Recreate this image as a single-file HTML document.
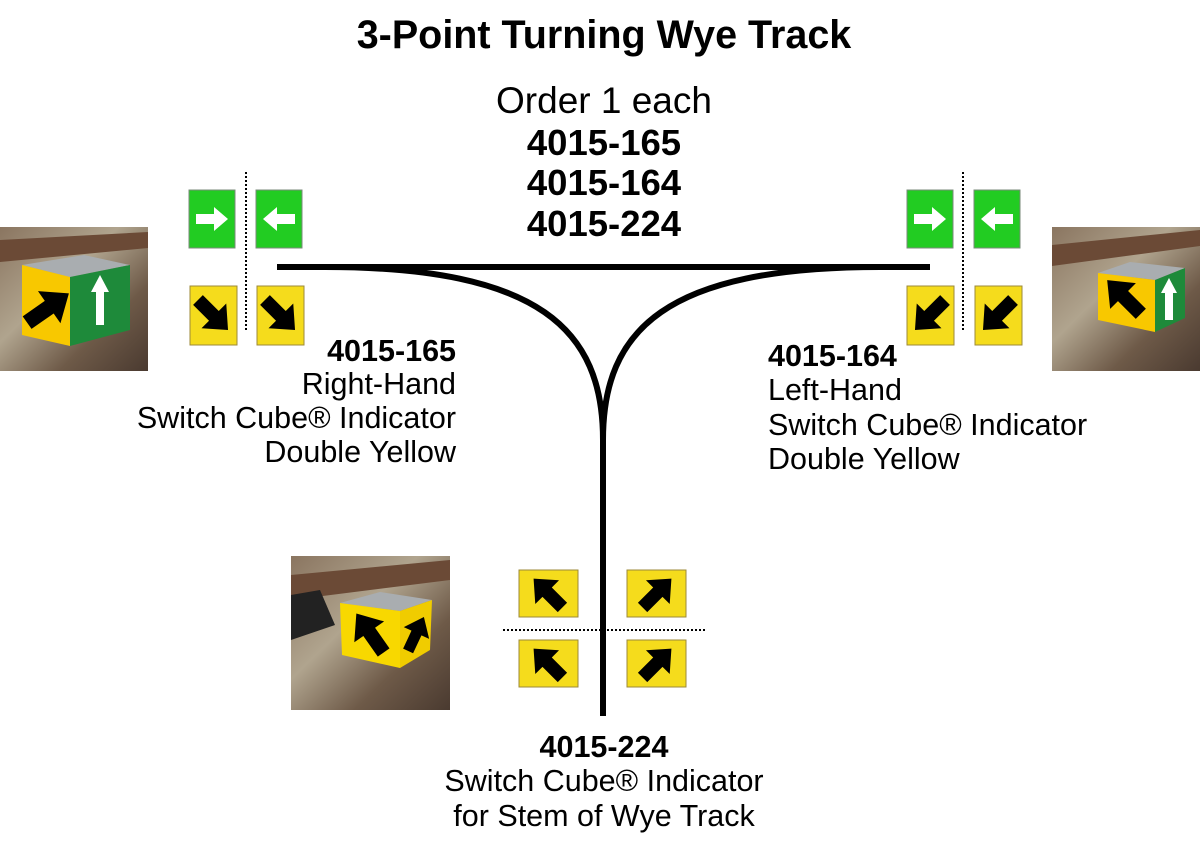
<!DOCTYPE html>
<html><head><meta charset="utf-8"><style>
html,body{margin:0;padding:0;background:#fff;}
svg{display:block;}
text{font-family:"Liberation Sans",Arial,sans-serif;fill:#000;}
</style></head><body>
<svg width="1200" height="849" viewBox="0 0 1200 849" xmlns="http://www.w3.org/2000/svg">
<defs>
<path id="arw" d="M-17,-5.5 L1,-5.5 L1,-14 L17,0 L1,14 L1,5.5 L-17,5.5 Z"/>
<path id="garw" d="M-16,-5 L2,-5 L2,-12 L16,0 L2,12 L2,5 L-16,5 Z"/>
<linearGradient id="bg1" x1="0" y1="0" x2="1" y2="1">
<stop offset="0" stop-color="#8a7560"/><stop offset="0.4" stop-color="#b0a48e"/><stop offset="0.7" stop-color="#6e5a48"/><stop offset="1" stop-color="#4a3a30"/></linearGradient>
</defs>

<text x="604" y="48" font-size="39.5" font-weight="bold" text-anchor="middle">3-Point Turning Wye Track</text>
<text x="604" y="113" font-size="37" text-anchor="middle">Order 1 each</text>
<text x="604" y="155" font-size="36.5" font-weight="bold" text-anchor="middle">4015-165</text>
<text x="604" y="195" font-size="36.5" font-weight="bold" text-anchor="middle">4015-164</text>
<text x="604" y="236" font-size="36.5" font-weight="bold" text-anchor="middle">4015-224</text>

<!-- track -->
<g stroke="#000" stroke-width="6" fill="none">
<line x1="277" y1="267" x2="930" y2="267"/>
<path d="M325,267 C540,267 603,330 603,440 L603,716"/>
<path d="M880,267 C665,267 603,330 603,440"/>
</g>

<!-- left signs -->
<line x1="246" y1="172" x2="246" y2="330" stroke="#000" stroke-width="2" stroke-dasharray="2,2"/>
<g stroke="#7a8a7a" stroke-width="1">
<rect x="189" y="190" width="46" height="58" fill="#22cc22"/>
<rect x="256" y="190" width="46" height="58" fill="#22cc22"/>
<rect x="190" y="286" width="47" height="59" fill="#f5dc1c" stroke="#9c8a3a"/>
<rect x="257" y="286" width="47" height="59" fill="#f5dc1c" stroke="#9c8a3a"/>
</g>
<use href="#garw" transform="translate(212,219)" fill="#fff"/>
<use href="#garw" transform="translate(279,219) rotate(180)" fill="#fff"/>
<use href="#arw" transform="translate(213,315) rotate(45) scale(1.25)"/>
<use href="#arw" transform="translate(280,315) rotate(45) scale(1.25)"/>

<!-- right signs -->
<line x1="963" y1="172" x2="963" y2="330" stroke="#000" stroke-width="2" stroke-dasharray="2,2"/>
<g stroke="#7a8a7a" stroke-width="1">
<rect x="907" y="190" width="46" height="58" fill="#22cc22"/>
<rect x="974" y="190" width="46" height="58" fill="#22cc22"/>
<rect x="907" y="286" width="47" height="59" fill="#f5dc1c" stroke="#9c8a3a"/>
<rect x="975" y="286" width="47" height="59" fill="#f5dc1c" stroke="#9c8a3a"/>
</g>
<use href="#garw" transform="translate(930,219)" fill="#fff"/>
<use href="#garw" transform="translate(997,219) rotate(180)" fill="#fff"/>
<use href="#arw" transform="translate(930,315) rotate(135) scale(1.25)"/>
<use href="#arw" transform="translate(998,315) rotate(135) scale(1.25)"/>

<!-- bottom signs -->
<line x1="503" y1="630" x2="705" y2="630" stroke="#000" stroke-width="2" stroke-dasharray="2,2"/>
<g fill="#f5dc1c" stroke="#9c8a3a" stroke-width="1">
<rect x="519" y="570" width="59" height="47"/>
<rect x="627" y="570" width="59" height="47"/>
<rect x="519" y="640" width="59" height="47"/>
<rect x="627" y="640" width="59" height="47"/>
</g>
<use href="#arw" transform="translate(548,593) rotate(-135) scale(1.2)"/>
<use href="#arw" transform="translate(657,593) rotate(-45) scale(1.2)"/>
<use href="#arw" transform="translate(548,663) rotate(-135) scale(1.2)"/>
<use href="#arw" transform="translate(657,663) rotate(-45) scale(1.2)"/>

<!-- left photo -->
<rect x="0" y="227" width="148" height="144" fill="url(#bg1)"/>
<polygon points="0,240 148,232 148,248 0,262" fill="#6b4a36"/>
<polygon points="22,265 84,255 130,265 70,277" fill="#a9adb0"/>
<polygon points="22,265 70,277 70,346 22,335" fill="#f8c800"/>
<polygon points="70,277 130,265 130,330 70,346" fill="#1e8a3a"/>
<use href="#arw" transform="translate(48,308) rotate(-35) scale(1.5,1.4)"/>
<polygon points="100,275 109,292 104,292 104,325 96,325 96,292 91,292" fill="#fff"/>

<!-- right photo -->
<rect x="1052" y="227" width="148" height="144" fill="url(#bg1)"/>
<polygon points="1052,245 1200,230 1200,246 1052,266" fill="#6b4a36"/>
<polygon points="1098,273 1130,262 1185,268 1155,280" fill="#a9adb0"/>
<polygon points="1098,273 1155,280 1155,332 1098,320" fill="#f8c800"/>
<polygon points="1155,280 1185,268 1185,318 1155,332" fill="#1e8a3a"/>
<use href="#arw" transform="translate(1124,297) rotate(-135) scale(1.4,1.3)"/>
<polygon points="1169,278 1177,293 1173,293 1173,320 1165,320 1165,293 1161,293" fill="#fff"/>

<!-- bottom photo -->
<rect x="291" y="556" width="159" height="154" fill="url(#bg1)"/>
<polygon points="291,575 450,560 450,580 291,600" fill="#6b4a36"/>
<polygon points="291,595 320,590 335,625 291,640" fill="#222"/>
<polygon points="340,603 380,592 432,600 400,611" fill="#a9adb0"/>
<polygon points="340,603 400,611 400,668 342,655" fill="#f8d800"/>
<polygon points="400,611 432,600 430,650 400,668" fill="#f0cc00"/>
<use href="#arw" transform="translate(370,633) rotate(-125) scale(1.4,1.3)"/>
<use href="#arw" transform="translate(416,634) rotate(-65) scale(1.1,1.0)"/>

<!-- labels -->
<g font-size="30.5" text-anchor="end">
<text x="456" y="361" font-weight="bold">4015-165</text>
<text x="456" y="394">Right-Hand</text>
<text x="456" y="428">Switch Cube® Indicator</text>
<text x="456" y="462">Double Yellow</text>
</g>
<g font-size="30.5">
<text x="768" y="366" font-weight="bold">4015-164</text>
<text x="768" y="400">Left-Hand</text>
<text x="768" y="435">Switch Cube® Indicator</text>
<text x="768" y="469">Double Yellow</text>
</g>
<g font-size="30.5" text-anchor="middle">
<text x="604" y="757" font-weight="bold">4015-224</text>
<text x="604" y="791">Switch Cube® Indicator</text>
<text x="604" y="826">for Stem of Wye Track</text>
</g>
</svg>
</body></html>
